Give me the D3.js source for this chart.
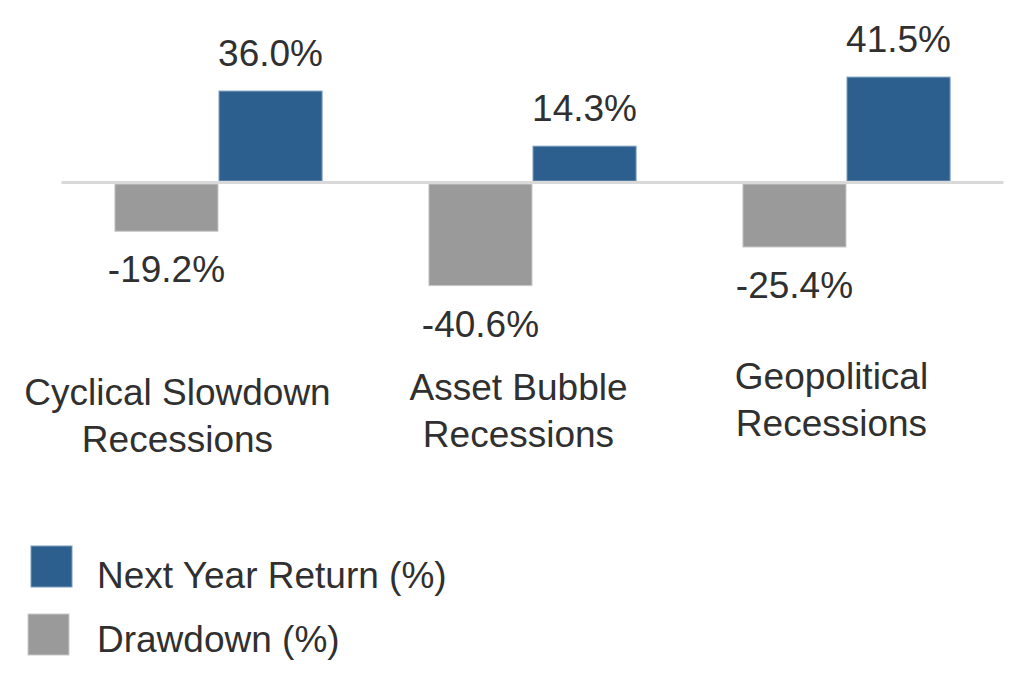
<!DOCTYPE html>
<html>
<head>
<meta charset="utf-8">
<script src="https://cdn.jsdelivr.net/npm/d3@7"></script>
<style>
  html, body { margin: 0; padding: 0; background: #ffffff; }
  svg { display: block; }
  text { font-family: "Liberation Sans", Arial, sans-serif; fill: #303030; }
</style>
</head>
<body>
<svg id="chart" width="1024" height="689"></svg>
<script>
// ---- data ----
const categories = [
  ["Cyclical Slowdown", "Recessions"],
  ["Asset Bubble", "Recessions"],
  ["Geopolitical", "Recessions"]
];
const seriesNames = ["Drawdown (%)", "Next Year Return (%)"];
const drawdown = [-19.2, -40.6, -25.4];
const nextYearReturn = [36.0, 14.3, 41.5];
const legendOrder = ["Next Year Return (%)", "Drawdown (%)"];

// ---- layout / style (not data) ----
const colors = { "Drawdown (%)": "#9a9a9a", "Next Year Return (%)": "#2d5f8e" };
const strokes = { "Drawdown (%)": "#c9c9c9", "Next Year Return (%)": "#7e9dbf" };
const catLabelLayout = [
  { dx: -41, y: 405 },
  { dx: -14, y: 400 },
  { dx: -15, y: 389 }
];
const fontSize = 37;

const svg = d3.select("#chart");
const catKeys = categories.map(c => c.join(" "));

const x = d3.scaleBand().domain(catKeys).range([61.5, 1003.5])
  .paddingInner(0.337).paddingOuter(0.1685);
const xs = d3.scaleBand().domain(seriesNames).range([0, x.bandwidth()]);
const y = d3.scaleLinear().domain([-50, 50]).range([182.5 + 127, 182.5 - 127]);

const rows = catKeys.map((k, i) => ({
  key: k,
  values: [
    { s: "Drawdown (%)", v: drawdown[i] },
    { s: "Next Year Return (%)", v: nextYearReturn[i] }
  ]
}));

// bars
const g = svg.selectAll("g.grp").data(rows).join("g")
  .attr("class", "grp")
  .attr("transform", d => `translate(${x(d.key)},0)`);

g.selectAll("rect").data(d => d.values).join("rect")
  .attr("x", d => xs(d.s) + 0.5)
  .attr("width", xs.bandwidth() - 1)
  .attr("y", d => d.v >= 0 ? y(d.v) : y(0) + 1.5)
  .attr("height", d => d.v >= 0 ? y(0) - 1.5 - y(d.v) : y(d.v) - y(0) - 1.5)
  .attr("fill", d => colors[d.s])
  .attr("stroke", d => strokes[d.s])
  .attr("stroke-width", 1);

// baseline
svg.append("line")
  .attr("x1", x.range()[0]).attr("x2", x.range()[1])
  .attr("y1", y(0)).attr("y2", y(0))
  .attr("stroke", "#d9d9d9").attr("stroke-width", 3);

// value labels
g.selectAll("text.val").data(d => d.values).join("text")
  .attr("class", "val")
  .attr("x", d => xs(d.s) + xs.bandwidth() / 2)
  .attr("y", d => d.v >= 0 ? y(d.v) - 25 : y(d.v) + 51)
  .attr("text-anchor", "middle")
  .attr("font-size", fontSize)
  .text(d => d.v.toFixed(1) + "%");

// category labels
categories.forEach((lines, i) => {
  const cx = x(catKeys[i]) + x.bandwidth() / 2 + catLabelLayout[i].dx;
  const t = svg.append("text")
    .attr("x", cx)
    .attr("y", catLabelLayout[i].y)
    .attr("text-anchor", "middle")
    .attr("font-size", fontSize);
  lines.forEach((ln, j) => {
    t.append("tspan").attr("x", cx).attr("dy", j === 0 ? 0 : 47).text(ln);
  });
});

// legend
const legendPos = [
  { rx: 31, ry: 546, ty: 588 },
  { rx: 28, ry: 614, ty: 652 }
];
const lg = svg.selectAll("g.leg").data(legendOrder).join("g").attr("class", "leg");
lg.append("rect")
  .attr("x", (d, i) => legendPos[i].rx)
  .attr("y", (d, i) => legendPos[i].ry)
  .attr("width", 41).attr("height", 41)
  .attr("fill", d => colors[d])
  .attr("stroke", d => strokes[d]).attr("stroke-width", 1);
lg.append("text")
  .attr("x", 97)
  .attr("y", (d, i) => legendPos[i].ty)
  .attr("font-size", fontSize)
  .text(d => d);
</script>
</body>
</html>
